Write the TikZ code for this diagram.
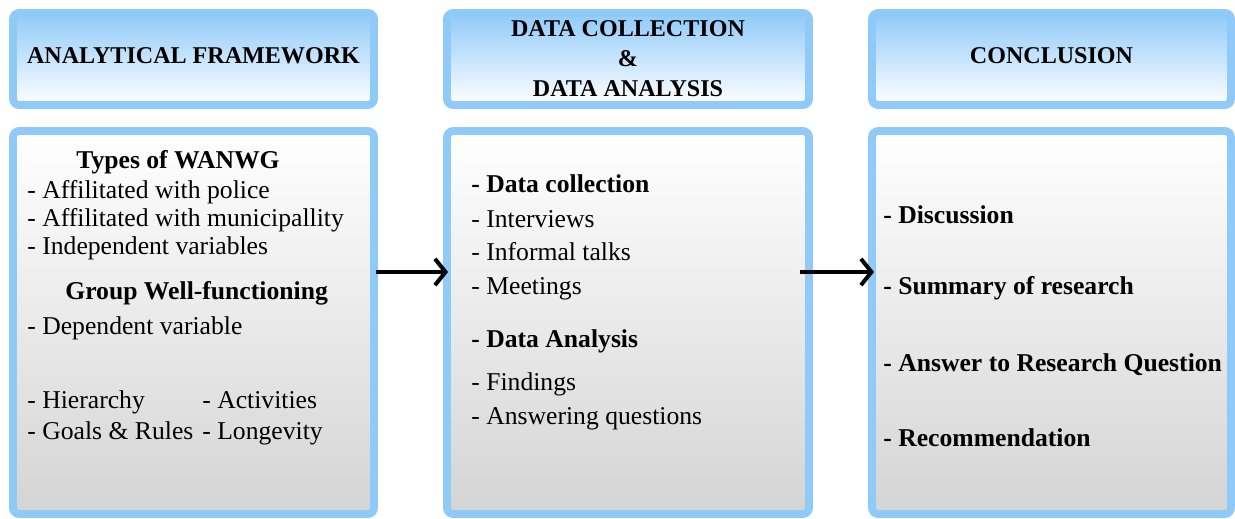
\documentclass[tikz,border=0pt]{standalone}
\usepackage{fontspec}
\setmainfont{Liberation Serif}
\usetikzlibrary{arrows.meta}
\definecolor{frameblue}{RGB}{144,202,249}
\definecolor{bodygray}{RGB}{212,212,212}
\begin{document}
\begin{tikzpicture}[x=0.02cm,y=-0.02cm,
  frame/.style={draw=frameblue,line width=4.5pt,rounded corners=3.5pt,inner sep=0pt},
  head/.style={frame,top color=frameblue,bottom color=white,minimum height=1.84cm,font=\bfseries\fontsize{13.7}{17}\selectfont,align=center},
  body/.style={frame,top color=white,bottom color=bodygray,minimum height=7.66cm},
  txt/.style={anchor=base west,inner sep=0pt,font=\fontsize{14.6}{17}\selectfont},
  btxt/.style={txt,font=\bfseries\fontsize{14.6}{17}\selectfont},
  flow/.style={-{Straight Barb[length=6pt,width=15pt]},line width=2.3pt}]
\useasboundingbox (0,0) rectangle (1235,519);
\node[head,minimum width=7.22cm,text depth=4pt] (hframe) at (193.5,59) {ANALYTICAL FRAMEWORK};
\node[head,minimum width=7.24cm] (hdata) at (628,59) {DATA COLLECTION\\ \&\\ DATA ANALYSIS};
\node[head,minimum width=7.18cm,text depth=4pt] (hconcl) at (1051.5,59) {CONCLUSION};
\node[body,minimum width=7.22cm] (framework) at (193.5,322.5) {};
\node[body,minimum width=7.24cm] (data) at (628,322.5) {};
\node[body,minimum width=7.18cm] (concl) at (1051.5,322.5) {};
\node[btxt] (types) at (76,169) {Types of WANWG};
\node[txt] (police) at (27,199) {- Affilitated with police};
\node[txt] (munic) at (27,227) {- Affilitated with municipallity};
\node[txt] (indep) at (27,255) {- Independent variables};
\node[btxt] (group) at (65,300) {Group Well-functioning};
\node[txt] (dep) at (27,335) {- Dependent variable};
\node[txt] (hier) at (27,409) {- Hierarchy}; \node[txt] (activ) at (202,409) {- Activities};
\node[txt] (goals) at (27,440) {- Goals \& Rules}; \node[txt] (longev) at (202,440) {- Longevity};
\node[btxt] (dcoll) at (471,193) {- Data collection};
\node[txt] (interv) at (471,228) {- Interviews};
\node[txt] (talks) at (471,261) {- Informal talks};
\node[txt] (meet) at (471,295) {- Meetings};
\node[btxt] (danal) at (471,348) {- Data Analysis};
\node[txt] (find) at (471,391) {- Findings};
\node[txt] (answq) at (471,425) {- Answering questions};
\node[btxt] (disc) at (883,224) {- Discussion};
\node[btxt] (summ) at (883,295) {- Summary of research};
\node[btxt] (rq) at (883,372) {- Answer to Research Question};
\node[btxt] (recom) at (883,447) {- Recommendation};
\draw[flow] ([xshift=-0.04cm,yshift=1.01cm]framework.east) -- ([xshift=0.1cm,yshift=1.01cm]data.west);
\draw[flow] ([xshift=-0.26cm,yshift=1.01cm]data.east) -- ([xshift=0.12cm,yshift=1.01cm]concl.west);
\end{tikzpicture}
\end{document}
